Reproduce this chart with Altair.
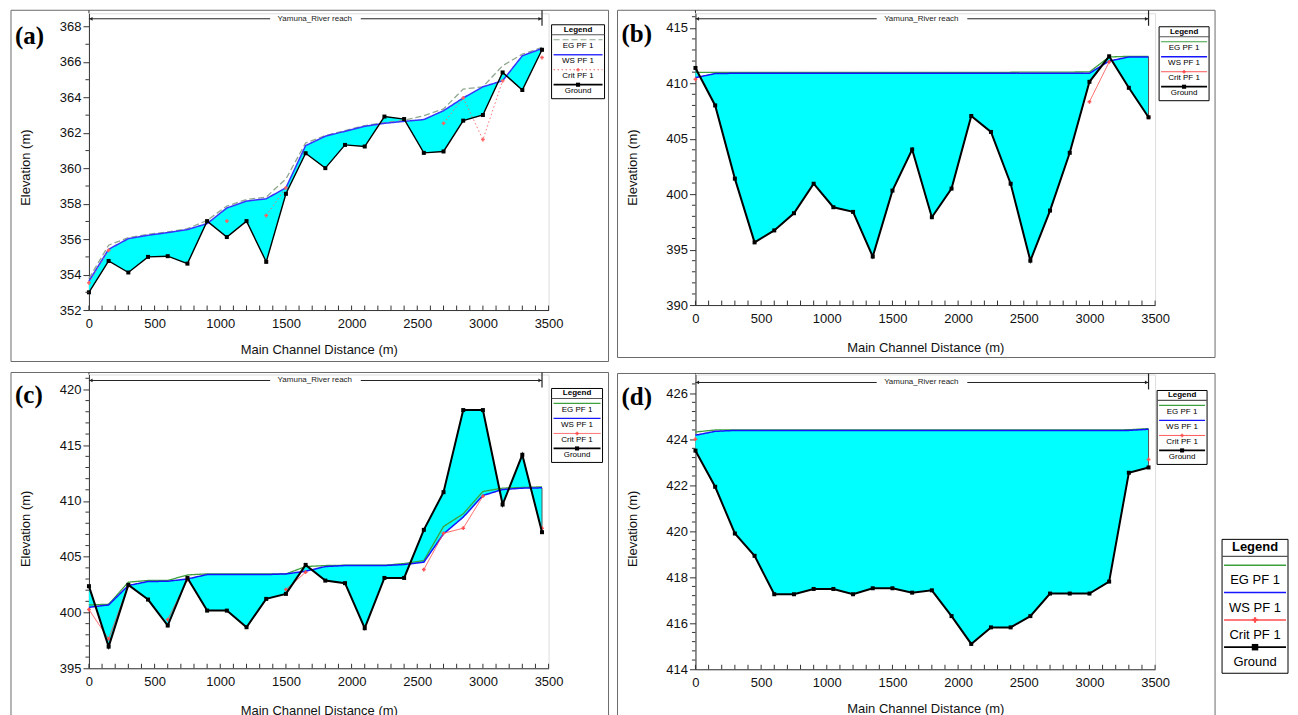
import altair as alt
import pandas as pd

FONT = "Liberation Sans"
SERIF = "Liberation Serif"

# ---------------- data ----------------
dist = [0, 150, 300, 450, 600, 750, 900, 1050, 1200, 1350, 1500, 1650,
        1800, 1950, 2100, 2250, 2400, 2550, 2700, 2850, 3000, 3150, 3300, 3450]

series_names = ["EG PF 1", "WS PF 1", "Crit PF 1", "Ground"]
legend_title = "Legend"
reach_label = "Yamuna_River reach"
x_title = "Main Channel Distance (m)"
y_title = "Elevation (m)"
x_major = [0, 500, 1000, 1500, 2000, 2500, 3000, 3500]
x_minor = [100, 200, 300, 400, 600, 700, 800, 900, 1100, 1200, 1300, 1400,
           1600, 1700, 1800, 1900, 2100, 2200, 2300, 2400, 2600, 2700, 2800,
           2900, 3100, 3200, 3300, 3400]
reach_segments_start = [0, 2070]
reach_segments_end = [1380, 3450]

# panel (a)
a_ground = [353.0, 354.77, 354.12, 355.0, 355.04, 354.62, 357.02, 356.12, 357.02, 354.72,
            358.56, 360.85, 360.01, 361.32, 361.23, 362.92, 362.78, 360.87, 360.95, 362.69,
            363.01, 365.41, 364.42, 366.69]
a_ws = [353.63, 355.43, 356.03, 356.22, 356.37, 356.54, 356.88, 357.76, 358.15, 358.28,
        358.9, 361.28, 361.81, 362.09, 362.37, 362.54, 362.65, 362.75, 363.25, 363.97,
        364.6, 364.94, 366.35, 366.76]
a_eg = [353.78, 355.66, 356.09, 356.27, 356.41, 356.59, 357.06, 357.87, 358.24, 358.38,
        359.4, 361.43, 361.85, 362.13, 362.41, 362.58, 362.71, 362.97, 363.35, 364.47,
        364.6, 365.79, 366.44, 366.82]
a_crit = [353.54, 355.37, None, None, None, None, None, 357.02, None, 357.33,
          358.9, None, None, None, None, None, None, None, 362.54, 363.97,
          361.62, 364.94, None, 366.25]
a_y_major = [352, 354, 356, 358, 360, 362, 364, 366, 368]
a_y_minor = [353, 355, 357, 359, 361, 363, 365, 367]

# panel (b)
b_ground = [411.38, 408.0, 401.4, 395.65, 396.73, 398.28, 400.94, 398.82, 398.4, 394.37,
            400.32, 404.03, 397.92, 400.5, 407.05, 405.61, 400.94, 394.0, 398.52, 403.73,
            410.13, 412.43, 409.59, 406.93]
b_ws = [410.51, 410.87, 410.9, 410.9, 410.9, 410.9, 410.9, 410.9, 410.9, 410.9,
        410.9, 410.9, 410.9, 410.9, 410.9, 410.9, 410.9, 410.9, 410.9, 410.9,
        410.9, 412.0, 412.37, 412.37]
b_eg = [410.99, 410.97, 410.97, 410.97, 410.97, 410.97, 410.97, 410.97, 410.97, 410.97,
        410.97, 410.97, 410.97, 410.97, 410.98, 410.98, 410.99, 411.0, 411.01, 411.01,
        411.02, 412.37, 412.43, 412.43]
b_crit = [410.36, None, None, None, None, None, None, None, None, None,
          None, None, None, None, None, None, None, None, None, None,
          408.33, 411.92, None, 406.93]
b_y_major = [390, 395, 400, 405, 410, 415]
b_y_minor = [391, 392, 393, 394, 396, 397, 398, 399, 401, 402, 403, 404,
             406, 407, 408, 409, 411, 412, 413, 414, 416]

# panel (c)
c_ground = [402.36, 396.94, 402.48, 401.16, 398.83, 403.1, 400.17, 400.17, 398.68, 401.22,
            401.67, 404.27, 402.86, 402.63, 398.59, 403.1, 403.1, 407.41, 410.79, 418.15,
            418.15, 409.68, 414.14, 407.2]
c_ws = [400.47, 400.68, 402.42, 402.78, 402.8, 403.01, 403.4, 403.4, 403.4, 403.4,
        403.46, 403.7, 404.12, 404.21, 404.21, 404.21, 404.3, 404.51, 407.05, 408.55,
        410.49, 411.03, 411.15, 411.18]
c_eg = [400.68, 400.74, 402.72, 402.87, 402.87, 403.37, 403.46, 403.46, 403.46, 403.46,
        403.46, 404.12, 404.21, 404.24, 404.24, 404.24, 404.39, 404.66, 407.71, 408.85,
        410.85, 411.15, 411.21, 411.27]
c_crit = [400.26, 397.63, 402.42, None, 399.37, 402.92, None, None, None, None,
          402.06, 403.61, None, None, None, None, None, 403.85, 407.1, 407.56,
          410.43, None, None, 407.56]
c_y_major = [395, 400, 405, 410, 415, 420]
c_y_minor = [396, 397, 398, 399, 401, 402, 403, 404, 406, 407, 408, 409,
             411, 412, 413, 414, 416, 417, 418, 419, 421]

# panel (d)
d_ground = [423.5, 421.93, 419.9, 418.93, 417.26, 417.26, 417.49, 417.49, 417.26, 417.52,
            417.52, 417.33, 417.43, 416.31, 415.1, 415.82, 415.82, 416.31, 417.29, 417.29,
            417.29, 417.81, 422.54, 422.77]
d_ws = [424.17, 424.34, 424.38, 424.38, 424.38, 424.38, 424.38, 424.38, 424.38, 424.38,
        424.38, 424.38, 424.38, 424.38, 424.38, 424.38, 424.38, 424.38, 424.38, 424.38,
        424.38, 424.38, 424.38, 424.43]
d_eg = [424.31, 424.4, 424.4, 424.4, 424.4, 424.4, 424.4, 424.4, 424.4, 424.4,
        424.4, 424.4, 424.4, 424.4, 424.4, 424.4, 424.4, 424.4, 424.4, 424.4,
        424.4, 424.4, 424.41, 424.46]
d_crit = [424.0, None, None, None, None, None, None, None, None, None,
          None, None, None, None, None, None, None, None, None, None,
          None, None, None, 423.12]
d_y_major = [414, 416, 418, 420, 422, 424, 426]
d_y_minor = [414.4, 414.8, 415.2, 415.6, 416.4, 416.8, 417.2, 417.6, 418.4, 418.8,
             419.2, 419.6, 420.4, 420.8, 421.2, 421.6, 422.4, 422.8, 423.2, 423.6,
             424.4, 424.8, 425.2, 425.6, 426.4]

colors_a = ["#8fa68f", "#3535ff", "#ff6060", "#000000"]
dashes_a = [[6, 3], [1, 0], [1.5, 2.5], [1, 0]]
colors_bcd = ["#3ca03c", "#1515ff", "#ff4d4d", "#000000"]
dashes_bcd = [[1, 0], [1, 0], [1, 0], [1, 0]]

W = 460
ONE = alt.Data(values=[{"k": 1}])


def crit_frame(crit):
    rows, seg, prev_valid = [], 0, False
    for d, v in zip(dist, crit):
        if v is None:
            if prev_valid:
                seg += 1
            prev_valid = False
            continue
        rows.append({"dist": d, "elev": v, "seg": seg})
        prev_valid = True
    return pd.DataFrame(rows)


def legend_layers(lx, top, lw, geo, fs, colors, dashes, widths, msize):
    """HEC-RAS style legend box: coloured line above each centred label."""
    hd, sep, l0, t0, pitch, bottom = geo
    cx = lx + lw / 2
    out = [
        alt.Chart(ONE).mark_rect(fill="white", stroke="black", strokeWidth=1).encode(
            x=alt.value(lx), x2=alt.value(lx + lw), y=alt.value(top),
            y2=alt.value(top + bottom)),
        alt.Chart(ONE).mark_text(font=FONT, fontSize=fs, fontWeight="bold", color="black",
                                 align="center", baseline="middle").encode(
            x=alt.value(cx), y=alt.value(top + hd), text=alt.value(legend_title)),
        alt.Chart(ONE).mark_rule(color="#555", strokeWidth=1.2).encode(
            x=alt.value(lx), x2=alt.value(lx + lw), y=alt.value(top + sep)),
    ]
    for i, name in enumerate(series_names):
        yl = top + l0 + pitch * i
        out.append(alt.Chart(ONE).mark_rule(color=colors[i], strokeDash=dashes[i],
                                            strokeWidth=widths[i]).encode(
            x=alt.value(lx + 2), x2=alt.value(lx + lw - 2), y=alt.value(yl)))
        if i == 2:
            out.append(alt.Chart(ONE).mark_point(shape="cross", filled=True, size=msize,
                                                 color=colors[i], opacity=1).encode(
                x=alt.value(cx), y=alt.value(yl)))
        if i == 3:
            out.append(alt.Chart(ONE).mark_square(size=msize * 1.4, color="black",
                                                  opacity=1).encode(
                x=alt.value(cx), y=alt.value(yl)))
        out.append(alt.Chart(ONE).mark_text(font=FONT, fontSize=fs, color="black",
                                            align="center", baseline="middle").encode(
            x=alt.value(cx), y=alt.value(top + t0 + pitch * i), text=alt.value(name)))
    return out


def panel(letter, ground, ws, eg, crit, y_dom, y_major, y_minor, colors, dashes,
          ground_w, H, box_top, box_bottom, reach_y, letter_y, title_y,
          leg_x, leg_y, leg_w, leg_geo, stray=None):
    xs = alt.Scale(domain=[0, 3500], nice=False, zero=False)
    ys = alt.Scale(domain=y_dom, nice=False, zero=False)
    xaxis = alt.Axis(values=x_major, format="d", ticks=False, grid=False,
                     domainColor="#333", labelFont=FONT, labelFontSize=13,
                     labelColor="#111", labelPadding=7, labelFlush=False,
                     title=x_title, titleFont=FONT, titleFontSize=13,
                     titleFontWeight="normal", titleColor="#111", titleX=W / 2,
                     titleY=title_y, titleBaseline="middle")
    yaxis = alt.Axis(values=y_major, format="d", tickSize=6, tickColor="#333", grid=False,
                     domainColor="#333", labelFont=FONT, labelFontSize=13,
                     labelColor="#111", labelPadding=2, labelFlush=False,
                     title=y_title, titleFont=FONT, titleFontSize=13,
                     titleFontWeight="normal", titleColor="#111", titleX=-63, titleY=154,
                     titleBaseline="middle")

    def X(f):
        return alt.X(f"{f}:Q", scale=xs, axis=xaxis)

    def Y(f):
        return alt.Y(f"{f}:Q", scale=ys, axis=yaxis)

    widths = [1.3, 1.5, 0.9, ground_w]
    base = pd.DataFrame({"dist": dist, "ground": ground, "ws": ws})
    eg_df = pd.DataFrame({"dist": dist, "elev": eg})
    ws_df = pd.DataFrame({"dist": dist, "elev": ws})
    gr_df = pd.DataFrame({"dist": dist, "elev": ground})
    cr_df = crit_frame(crit)
    end_df = pd.DataFrame({"dist": [dist[-1]], "ground": [ground[-1]], "ws": [ws[-1]]})
    ymin_df = pd.DataFrame({"v": y_minor})
    xt_df = pd.DataFrame({"v": x_major + x_minor})
    reach_df = pd.DataFrame({"a": reach_segments_start, "b": reach_segments_end})

    layers = []
    layers.append(alt.Chart(ONE).mark_rect(fill="white", fillOpacity=0, stroke="#6a6a6a",
                                           strokeWidth=1).encode(
        x=alt.value(-78), x2=alt.value(520), y=alt.value(box_top), y2=alt.value(box_bottom)))
    layers.append(alt.Chart(base).mark_area(color="#00ffff", opacity=1).encode(
        x=X("dist"), y=Y("ground"), y2=alt.Y2("ws")))
    layers.append(alt.Chart(end_df).mark_rule(color="#555", strokeWidth=1).encode(
        x=X("dist"), y=Y("ground"), y2=alt.Y2("ws")))
    layers.append(alt.Chart(eg_df).mark_line(color=colors[0], strokeDash=dashes[0],
                                             strokeWidth=widths[0]).encode(
        x=X("dist"), y=Y("elev")))
    layers.append(alt.Chart(ws_df).mark_line(color=colors[1], strokeDash=dashes[1],
                                             strokeWidth=widths[1]).encode(
        x=X("dist"), y=Y("elev")))
    layers.append(alt.Chart(cr_df).mark_line(color=colors[2], strokeDash=dashes[2],
                                             strokeWidth=widths[2]).encode(
        x=X("dist"), y=Y("elev"), detail="seg:N"))
    layers.append(alt.Chart(cr_df).mark_point(shape="cross", filled=True, size=14,
                                              color=colors[2], opacity=1).encode(
        x=X("dist"), y=Y("elev")))
    layers.append(alt.Chart(gr_df).mark_line(color=colors[3],
                                             strokeWidth=widths[3]).encode(
        x=X("dist"), y=Y("elev")))
    layers.append(alt.Chart(gr_df).mark_square(size=16, color="black", opacity=1).encode(
        x=X("dist"), y=Y("elev")))
    # axis line extension up to the frame, minor y ticks (outward), x ticks (inward)
    layers.append(alt.Chart(ONE).mark_rule(color="#333", strokeWidth=1).encode(
        x=alt.value(0), y=alt.value(box_top), y2=alt.value(0)))
    layers.append(alt.Chart(ymin_df).mark_rule(color="#333", strokeWidth=1).encode(
        y=Y("v"), x=alt.value(0), x2=alt.value(-3.5)))
    layers.append(alt.Chart(xt_df).mark_rule(color="#333", strokeWidth=1).encode(
        x=X("v"), y=alt.value(H), y2=alt.value(H - 4.5)))
    # reach annotation
    layers.append(alt.Chart(reach_df).mark_rule(color="#222", strokeWidth=1).encode(
        x=X("a"), x2=alt.X2("b"), y=alt.value(reach_y)))
    layers.append(alt.Chart(ONE).mark_point(shape="triangle-left", filled=True, size=14,
                                            color="#222", opacity=1).encode(
        x=alt.X(datum=0, type="quantitative", scale=xs, axis=xaxis),
        xOffset=alt.value(2), y=alt.value(reach_y)))
    layers.append(alt.Chart(ONE).mark_point(shape="triangle-right", filled=True, size=14,
                                            color="#222", opacity=1).encode(
        x=alt.X(datum=dist[-1], type="quantitative", scale=xs, axis=xaxis),
        xOffset=alt.value(-2), y=alt.value(reach_y)))
    layers.append(alt.Chart(ONE).mark_rule(color="#222", strokeWidth=1.2).encode(
        x=alt.X(datum=dist[-1], type="quantitative", scale=xs, axis=xaxis),
        y=alt.value(box_top), y2=alt.value(reach_y + 7)))
    layers.append(alt.Chart(ONE).mark_text(font=FONT, fontSize=8, color="#222",
                                           align="center", baseline="middle").encode(
        x=alt.X(datum=1720, type="quantitative", scale=xs, axis=xaxis),
        y=alt.value(reach_y), text=alt.value(reach_label)))
    layers.append(alt.Chart(ONE).mark_text(font=SERIF, fontSize=25, fontWeight="bold",
                                           color="black", align="left",
                                           baseline="alphabetic").encode(
        x=alt.value(-74), y=alt.value(letter_y), text=alt.value(letter)))
    layers += legend_layers(leg_x, leg_y, leg_w, leg_geo, 8, colors, dashes,
                            [1.2, 1.3, 1.0, 1.8], 12)
    if stray is not None:
        layers += legend_layers(stray[0], stray[1], 66, (8, 17, 26, 41, 27.3, 134), 13,
                                colors_bcd, dashes_bcd, [1.5, 1.5, 1.5, 1.8], 30)
    return alt.layer(*layers).properties(width=W, height=H)


geo_small = (5, 10, 15, 21.5, 15, 74)
pa = panel("(a)", a_ground, a_ws, a_eg, a_crit, [352, 368.75], a_y_major, a_y_minor,
           colors_a, dashes_a, 1.4, 297, -3, 348.5, 5.5, 30.5, 39.5,
           463, 11.5, 53, geo_small)
pb = panel("(b)", b_ground, b_ws, b_eg, b_crit, [390, 416.31], b_y_major, b_y_minor,
           colors_bcd, dashes_bcd, 2, 292, -3, 344.5, 5.5, 28.5, 42.5,
           464, 13.5, 50, geo_small)
pc = panel("(c)", c_ground, c_ws, c_eg, c_crit, [395, 421.34], c_y_major, c_y_minor,
           colors_bcd, dashes_bcd, 2, 294, -2, 349, 6, 29, 42,
           463, 14, 51, geo_small)
pd_ = panel("(d)", d_ground, d_ws, d_eg, d_crit, [414, 426.81], d_y_major, d_y_minor,
            colors_bcd, dashes_bcd, 2, 295, -1, 349, 8, 31, 39,
            462, 16, 50, geo_small, stray=(527, 165))

row1 = alt.hconcat(pa, pb, spacing=7)
row2 = alt.hconcat(pc, pd_, spacing=7)
chart = alt.vconcat(row1, row2, spacing=7.5).properties(
    padding={"left": 2, "top": 0, "right": 0, "bottom": 0},
    background="white",
).configure_view(strokeWidth=0).configure(font=FONT)

chart.save("out.html", embed_options={"renderer": "svg", "actions": False})
